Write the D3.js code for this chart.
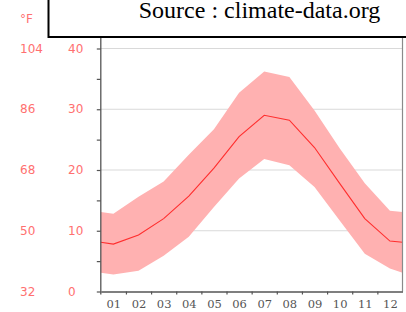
<!DOCTYPE html>
<html>
<head>
<meta charset="utf-8">
<script src="https://cdn.jsdelivr.net/npm/d3@7"></script>
<style>
  html, body { margin: 0; padding: 0; background: #fff; }
  svg { display: block; }
</style>
</head>
<body>
<svg id="chart" width="406" height="312"></svg>
<script>
// monthly temperatures (°C)
const months = ['01','02','03','04','05','06','07','08','09','10','11','12']
const tMean = [7.8, 9.3, 12.0, 15.7, 20.3, 25.5, 29.0, 28.2, 23.7, 17.8, 12.0, 8.3]
const tMax  = [12.8, 15.6, 18.1, 22.5, 26.7, 32.7, 36.2, 35.3, 29.8, 23.6, 17.8, 13.3]
const tMin  = [2.8, 3.4, 5.9, 9.0, 13.9, 18.6, 21.8, 20.8, 17.2, 11.7, 6.2, 3.8]
// values at the left/right plot edges (Dec/Jan wrap as drawn)
const edgeMean = 8.1, edgeMax = 13.1, edgeMin = 3.1
const celsiusTicks = [0, 10, 20, 30, 40]
const fahrenheitLabels = ['32', '50', '68', '86', '104']

const svg = d3.select('#chart')
const X0 = 100.8, X1 = 402.5, Y0 = 291.5, Y1 = 48.5

const x = d3.scaleLinear().domain([0.5, 12.5]).range([X0, X1])
const y = d3.scaleLinear().domain([0, 40]).range([Y0, Y1])

const pts = [{ m: 0.5, mean: edgeMean, max: edgeMax, min: edgeMin }]
months.forEach((_, i) => pts.push({ m: i + 1, mean: tMean[i], max: tMax[i], min: tMin[i] }))
pts.push({ m: 12.5, mean: edgeMean, max: edgeMax, min: edgeMin })

// gridlines
svg.append('g').selectAll('line').data(celsiusTicks.filter(v => v > 0)).join('line')
  .attr('x1', X0).attr('x2', X1)
  .attr('y1', d => y(d)).attr('y2', d => y(d))
  .attr('stroke', '#d9d9d9').attr('stroke-width', 1.2)

// band
svg.append('path').datum(pts)
  .attr('fill', '#ffb1b1')
  .attr('d', d3.area().x(d => x(d.m)).y0(d => y(d.min)).y1(d => y(d.max)))

// mean line
svg.append('path').datum(pts)
  .attr('fill', 'none').attr('stroke', '#ff2e2e').attr('stroke-width', 1.1)
  .attr('d', d3.line().x(d => x(d.m)).y(d => y(d.mean)))

// right border
svg.append('line').attr('x1', X1).attr('x2', X1).attr('y1', 36).attr('y2', Y0)
  .attr('stroke', '#8a8a8a').attr('stroke-width', 1.2)

// left axis
const gy = svg.append('g').attr('transform', `translate(${X0},0)`)
  .call(d3.axisLeft(y).tickValues(d3.range(0, 41, 5)).tickSize(4).tickSizeOuter(0).tickFormat(''))
gy.select('.domain').attr('stroke', '#555').attr('stroke-width', 1.3).attr('d', `M0,36V${Y0 + 3}`)
gy.selectAll('.tick line').attr('stroke', '#555').attr('stroke-width', 1.2)

// bottom axis: boundary ticks
const gx = svg.append('g').attr('transform', `translate(0,${Y0})`)
  .call(d3.axisBottom(x).tickValues(d3.range(1.5, 12.5, 1)).tickSize(3).tickSizeOuter(0).tickFormat(''))
gx.select('.domain').attr('stroke', '#555').attr('stroke-width', 1.3)
gx.selectAll('.tick line').attr('stroke', '#555').attr('stroke-width', 1.2)

// month labels
const gl = svg.append('g').attr('transform', `translate(0,${Y0})`)
  .call(d3.axisBottom(x).tickValues(d3.range(1, 13)).tickSize(0).tickPadding(8).tickFormat(d => months[d - 1]))
gl.select('.domain').remove()
gl.selectAll('text').attr('font-family', 'DejaVu Serif').attr('font-size', 11.5).attr('fill', '#555')

// °C labels
svg.append('g').selectAll('text').data(celsiusTicks).join('text')
  .attr('x', 68).attr('y', d => y(d)).attr('dy', '0.35em')
  .attr('font-family', 'DejaVu Sans').attr('font-size', 12).attr('fill', '#ff7070')
  .text(d => d)

// °F labels
svg.append('g').selectAll('text').data(fahrenheitLabels).join('text')
  .attr('x', 20).attr('y', (d, i) => y(celsiusTicks[i])).attr('dy', '0.35em')
  .attr('font-family', 'DejaVu Sans').attr('font-size', 12).attr('fill', '#ff7070')
  .text(d => d)
svg.append('text').attr('x', 20).attr('y', 19).attr('dy', '0.35em')
  .attr('font-family', 'DejaVu Sans').attr('font-size', 12).attr('fill', '#ff7070')
  .text('°F')

// source box
svg.append('rect').attr('x', 48.5).attr('y', -5).attr('width', 380).attr('height', 42)
  .attr('fill', '#fff').attr('stroke', '#000').attr('stroke-width', 2)
svg.append('text').attr('x', 259.5).attr('y', 18).attr('text-anchor', 'middle')
  .attr('font-family', 'Liberation Serif').attr('font-size', 24).attr('fill', '#000')
  .text('Source : climate-data.org')
</script>
</body>
</html>
